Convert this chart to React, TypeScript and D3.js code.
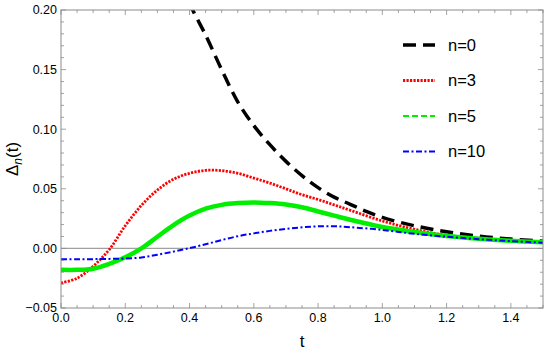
import React from 'react';
import * as d3 from 'd3';

// chart values
const tN0 = [0.4, 0.41, 0.45, 0.5, 0.55, 0.6, 0.65, 0.7, 0.75, 0.8, 0.85, 0.9, 0.95, 1.0, 1.1, 1.2, 1.3, 1.4, 1.5];
const vN0 = [0.207, 0.2, 0.179, 0.15, 0.123, 0.103, 0.087, 0.073, 0.061, 0.051, 0.043, 0.037, 0.031, 0.026, 0.019, 0.014, 0.0103, 0.0078, 0.006];

const tN = [0, 0.05, 0.1, 0.15, 0.2, 0.25, 0.3, 0.35, 0.4, 0.45, 0.5, 0.55, 0.6, 0.65, 0.7, 0.75, 0.8, 0.85, 0.9, 1.0, 1.1, 1.2, 1.3, 1.4, 1.5];
const vN3 = [-0.029, -0.025, -0.015, -0.001, 0.019, 0.036, 0.049, 0.058, 0.063, 0.0655, 0.0652, 0.063, 0.059, 0.0548, 0.05, 0.045, 0.041, 0.0365, 0.032, 0.023, 0.016, 0.011, 0.0085, 0.0066, 0.005];
const vN5 = [-0.018, -0.018, -0.017, -0.013, -0.0075, 0, 0.0098, 0.0195, 0.0275, 0.0333, 0.0365, 0.038, 0.0386, 0.038, 0.0368, 0.0345, 0.031, 0.0275, 0.024, 0.018, 0.0138, 0.0104, 0.0081, 0.0064, 0.0051];
const vN10 = [-0.009, -0.009, -0.009, -0.0088, -0.0085, -0.0076, -0.0053, -0.0027, 0.0002, 0.0035, 0.007, 0.0102, 0.0126, 0.0147, 0.0164, 0.0177, 0.0185, 0.0186, 0.0178, 0.0155, 0.0122, 0.0098, 0.0077, 0.0061, 0.0048];

const legendLabels = ['n=0', 'n=3', 'n=5', 'n=10'];
const xTicks = [0, 0.2, 0.4, 0.6, 0.8, 1.0, 1.2, 1.4];
const yTicks = [-0.05, 0, 0.05, 0.1, 0.15, 0.2];

const W = 550;
const H = 353;
const margin = { top: 10, right: 7, bottom: 45, left: 61 };
const innerW = W - margin.left - margin.right;
const innerH = H - margin.top - margin.bottom;
const font = '"Liberation Sans", Arial, sans-serif';
const frameColor = '#8c8c8c';

type Style = { color: string; width: number; dash?: string; legendWidth?: number; legendDash?: string };
const styles: Style[] = [
  { color: '#000000', width: 3.5, dash: '13,7' },
  { color: '#ff0000', width: 2.8, dash: '2.2,1.3' },
  { color: '#00ee00', width: 4.5, legendWidth: 2, legendDash: '6,3' },
  { color: '#0000ff', width: 2, dash: '6,2.5,2,2.5' },
];

const App = () => {
  const x = d3.scaleLinear().domain([0, 1.5]).range([0, innerW]);
  const y = d3.scaleLinear().domain([-0.05, 0.2]).range([innerH, 0]);

  const line = d3
    .line<[number, number]>()
    .x((d) => x(d[0]))
    .y((d) => y(d[1]))
    .curve(d3.curveCatmullRom.alpha(0.5));

  const series: [number, number][][] = [
    tN0.map((t, i) => [t, vN0[i]]),
    tN.map((t, i) => [t, vN3[i]]),
    tN.map((t, i) => [t, vN5[i]]),
    tN.map((t, i) => [t, vN10[i]]),
  ];

  // minor ticks
  const xMinor = d3.range(0, 1.5001, 0.05).map((v) => +v.toFixed(2));
  const yMinor = d3.range(-0.05, 0.2001, 0.01).map((v) => +v.toFixed(2));
  const isMajorX = (v: number) => xTicks.some((t) => Math.abs(t - v) < 1e-6);
  const isMajorY = (v: number) => yTicks.some((t) => Math.abs(t - v) < 1e-6);

  const fmt = (v: number) => (v < 0 ? '\u2212' : '') + Math.abs(v).toFixed(2);

  return (
    <svg width={W} height={H} style={{ position: 'absolute', left: 0, top: 0, background: '#fff' }} fontFamily={font}>
      <defs>
        <clipPath id="plotclip">
          <rect x={0} y={0} width={innerW} height={innerH} />
        </clipPath>
      </defs>
      <g transform={`translate(${margin.left},${margin.top})`}>
        {/* zero line */}
        <line x1={0} x2={innerW} y1={y(0)} y2={y(0)} stroke="#a0a0a0" strokeWidth={1.2} />

        {/* curves */}
        <g clipPath="url(#plotclip)">
          {series.map((s, i) => (
            <path
              key={i}
              d={line(s) || ''}
              fill="none"
              stroke={styles[i].color}
              strokeWidth={styles[i].width}
              strokeDasharray={styles[i].dash}
            />
          ))}
        </g>

        {/* frame */}
        <rect x={0} y={0} width={innerW} height={innerH} fill="none" stroke={frameColor} strokeWidth={1} />

        {/* x ticks, bottom and top */}
        {xMinor.map((v) => {
          const len = isMajorX(v) ? 5 : 3;
          return (
            <g key={'x' + v} stroke={frameColor} strokeWidth={0.8}>
              <line x1={x(v)} x2={x(v)} y1={innerH} y2={innerH - len} />
              <line x1={x(v)} x2={x(v)} y1={0} y2={len} />
            </g>
          );
        })}
        {/* y ticks, left and right */}
        {yMinor.map((v) => {
          const len = isMajorY(v) ? 5 : 3;
          return (
            <g key={'y' + v} stroke={frameColor} strokeWidth={0.8}>
              <line x1={0} x2={len} y1={y(v)} y2={y(v)} />
              <line x1={innerW} x2={innerW - len} y1={y(v)} y2={y(v)} />
            </g>
          );
        })}

        {xTicks.map((v) => (
          <text key={'xl' + v} x={x(v)} y={innerH + 14} textAnchor="middle" fontSize={12.5} fill="#000">
            {v.toFixed(1)}
          </text>
        ))}
        {yTicks.map((v) => (
          <text key={'yl' + v} x={-4} y={y(v)} dy="0.35em" textAnchor="end" fontSize={12.5} fill="#000">
            {fmt(v)}
          </text>
        ))}

        {/* axis labels */}
        <text x={innerW / 2} y={innerH + 39} textAnchor="middle" fontSize={17} fill="#000">
          t
        </text>
        <text transform={`translate(${-43},${innerH / 2}) rotate(-90)`} textAnchor="middle" fontSize={17} fill="#000">
          Δ<tspan fontStyle="italic" fontSize={12} dy={4}>n</tspan>
          <tspan dy={-4}>(t)</tspan>
        </text>

        {/* legend */}
        {legendLabels.map((lab, i) => {
          const ly = 35 + i * 35.5;
          const st = styles[i];
          return (
            <g key={lab}>
              <line
                x1={342}
                x2={374}
                y1={ly}
                y2={ly}
                stroke={st.color}
                strokeWidth={st.legendWidth ?? st.width}
                strokeDasharray={st.legendDash ?? st.dash}
              />
              <text x={387} y={ly} dy="0.36em" fontSize={16.5} fill="#000">
                {lab}
              </text>
            </g>
          );
        })}
      </g>
    </svg>
  );
};

export default App;
